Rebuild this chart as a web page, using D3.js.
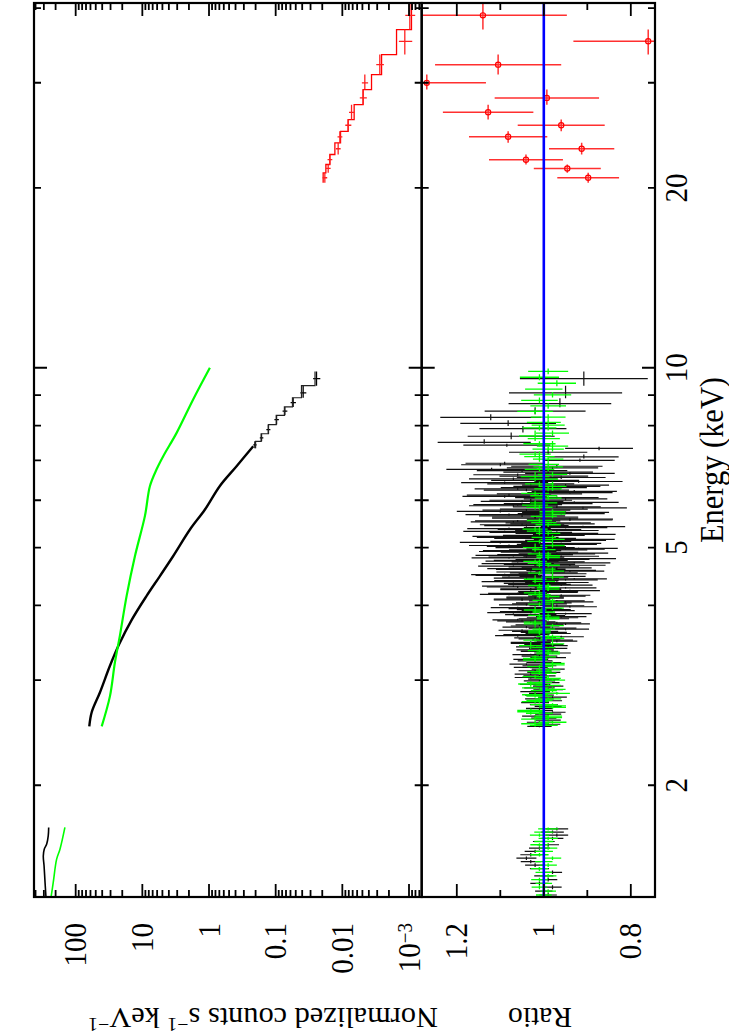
<!DOCTYPE html>
<html>
<head>
<meta charset="utf-8">
<script src="https://cdn.jsdelivr.net/npm/d3@7"></script>
<style>
  body { margin: 0; background: #fff; }
</style>
</head>
<body>
<svg id="chart" width="729" height="1034"></svg>
<script>
// ---- upper panel: normalized counts (energy keV, counts s-1 keV-1)
var blackLowE = [1.30, 1.375, 1.466, 1.523, 1.563, 1.594, 1.645, 1.70]
var blackLowC = [279, 288, 298, 306, 296, 272, 258, 254]
var greenLowE = [1.30, 1.375, 1.504, 1.563, 1.70]
var greenLowC = [234, 217, 193, 172, 145]

var blackE = [2.51, 2.65, 2.86, 3.17, 3.44, 3.79, 4.15, 4.48, 4.84, 5.36, 5.79, 6.34, 6.84, 7.39]
var blackC = [62.5, 57.5, 43.3, 30.6, 22.4, 14.3, 8.63, 5.45, 3.44, 1.93, 1.15, 0.687, 0.386, 0.217]
// last wide black bins, drawn as crosses with the model step
var blackHiE = [7.43, 7.63, 7.88, 8.19, 8.46, 8.74, 9.08, 9.59]
var blackHiC = [0.205, 0.163, 0.129, 0.097, 0.0728, 0.0547, 0.0387, 0.0244]
var blackHiErr = [0.012, 0.010, 0.009, 0.0075, 0.006, 0.005, 0.004, 0.003]
var blackHiModel = [0.200, 0.165, 0.128, 0.098, 0.074, 0.056, 0.041, 0.0257]

var greenE = [2.51, 2.82, 3.21, 3.56, 4.15, 4.84, 5.65, 6.34, 6.76, 7.11, 7.78, 8.85, 10.0]
var greenC = [40.7, 30.6, 25.8, 21.7, 17.2, 12.9, 9.14, 7.69, 6.11, 4.86, 3.06, 1.73, 0.97]

var redEdges = [20.4, 21.2, 21.89, 22.75, 23.8, 24.88, 26.03, 27.57, 29.22, 30.96, 33.45, 36.83, 41.06]
var redE = [20.8, 21.56, 22.3, 23.26, 24.36, 25.47, 26.77, 28.30, 29.99, 32.17, 35.20, 38.9]
var redC = [0.0183, 0.0163, 0.0154, 0.01155, 0.0109, 0.00818, 0.00728, 0.00488, 0.0046, 0.00274, 0.001156, 0.000972]
var redModel = [0.0194, 0.01766, 0.01538, 0.01294, 0.01064, 0.00818, 0.00665, 0.00488, 0.00365, 0.00258, 0.001538, 0.000918]
var redRatio = [0.898, 0.946, 1.041, 0.913, 1.082, 0.960, 1.128, 0.993, 1.269, 1.105, 0.760, 1.140]
var redRatioErr = [0.071, 0.077, 0.085, 0.075, 0.09, 0.10, 0.104, 0.12, 0.136, 0.145, 0.172, 0.193]

// ---- lower panel: ratio
var bLowE = [1.31, 1.33, 1.35, 1.37, 1.39, 1.41, 1.43, 1.45, 1.47, 1.49, 1.51, 1.53, 1.55, 1.57, 1.59, 1.61, 1.63, 1.65, 1.67, 1.69]
var bLowR = [0.99, 1.00, 0.98, 1.01, 0.99, 1.00, 0.98, 1.01, 1.02, 1.03, 1.04, 1.03, 1.02, 1.01, 0.99, 1.00, 0.98, 0.97, 0.98, 0.97]
var bLowErr = [0.020, 0.020, 0.021, 0.021, 0.021, 0.022, 0.022, 0.022, 0.023, 0.023, 0.023, 0.024, 0.024, 0.024, 0.025, 0.025, 0.025, 0.026, 0.026, 0.026]
var gLowE = [1.31, 1.33, 1.35, 1.37, 1.39, 1.41, 1.43, 1.45, 1.47, 1.49, 1.51, 1.53, 1.55, 1.57, 1.59, 1.61, 1.63, 1.65, 1.67, 1.69]
var gLowR = [1.00, 0.99, 1.01, 1.00, 1.01, 0.99, 1.00, 1.01, 0.99, 1.00, 0.98, 1.01, 1.00, 0.99, 1.01, 1.00, 0.99, 1.01, 1.00, 0.99]
var gLowErr = [0.018, 0.018, 0.018, 0.019, 0.019, 0.019, 0.019, 0.020, 0.020, 0.020, 0.020, 0.021, 0.021, 0.021, 0.021, 0.022, 0.022, 0.022, 0.022, 0.023]

var bE = [2.51, 2.53, 2.55, 2.57, 2.59, 2.61, 2.63, 2.65, 2.67, 2.69,
  2.71, 2.73, 2.75, 2.77, 2.79, 2.81, 2.83, 2.85, 2.87, 2.89,
  2.91, 2.93, 2.95, 2.97, 2.99, 3.01, 3.03, 3.05, 3.07, 3.09,
  3.11, 3.13, 3.15, 3.17, 3.19, 3.21, 3.23, 3.25, 3.27, 3.29,
  3.31, 3.33, 3.35, 3.37, 3.39, 3.41, 3.44, 3.47, 3.50, 3.53,
  3.56, 3.59, 3.62, 3.65, 3.68, 3.71, 3.74, 3.77, 3.80, 3.83,
  3.86, 3.89, 3.92, 3.95, 3.98, 4.01, 4.04, 4.07, 4.10, 4.13,
  4.16, 4.19, 4.22, 4.25, 4.28, 4.31, 4.34, 4.37, 4.40, 4.43,
  4.46, 4.49, 4.52, 4.55, 4.58, 4.61, 4.64, 4.67, 4.70, 4.73,
  4.76, 4.79, 4.82, 4.85, 4.88, 4.91, 4.94, 4.97, 5.00, 5.04,
  5.08, 5.12, 5.16, 5.20, 5.24, 5.28, 5.32, 5.36, 5.40, 5.44,
  5.48, 5.52, 5.56, 5.60, 5.65, 5.70, 5.75, 5.80, 5.85, 5.90,
  5.95, 6.00, 6.06, 6.12, 6.18, 6.24, 6.30, 6.36, 6.42, 6.48,
  6.55, 6.62, 6.69, 6.76, 6.84, 6.92, 7.00, 7.09, 7.22, 7.33,
  7.42, 7.50, 7.68, 7.91, 8.07, 8.26, 8.46, 8.71, 9.08, 9.59]
var bR = [1.01, 0.99, 1.01, 0.99, 1.00, 1.02, 0.99, 0.98, 1.01, 1.01,
  0.99, 1.00, 1.02, 0.99, 1.01, 0.98, 1.01, 1.00, 1.02, 0.99,
  1.01, 0.99, 1.02, 1.00, 1.01, 1.00, 1.03, 1.01, 1.03, 1.00,
  1.02, 0.99, 1.03, 1.01, 1.04, 1.00, 1.02, 1.03, 0.99, 1.01,
  1.03, 0.98, 1.01, 1.02, 0.99, 1.02, 1.00, 1.03, 0.98, 1.02,
  1.06, 0.99, 1.02, 0.95, 1.04, 1.01, 0.97, 1.05, 1.00, 0.96,
  1.03, 1.07, 0.99, 1.02, 0.94, 1.04, 1.00, 0.97, 1.05, 1.02,
  0.96, 1.06, 0.99, 1.03, 0.95, 1.07, 1.01, 0.97, 1.04, 0.93,
  1.02, 1.08, 0.98, 1.03, 0.96, 1.05, 1.00, 0.94, 1.06, 0.99,
  1.03, 0.92, 1.04, 1.07, 0.97, 1.01, 1.05, 0.95, 1.02, 1.08,
  0.96, 1.03, 0.93, 1.06, 1.00, 0.97, 1.09, 1.01, 0.95, 1.04,
  0.98, 1.07, 0.94, 1.02, 1.05, 0.96, 1.10, 1.00, 0.97, 1.06,
  0.93, 1.03, 0.97, 1.08, 0.94, 1.04, 1.00, 0.95, 1.09, 1.02,
  0.96, 1.06, 0.99, 1.12, 0.97, 1.09, 0.917, 0.908, 0.99, 0.873,
  1.085, 1.137, 1.075, 1.048, 1.082, 1.122, 1.02, 0.963, 0.95, 0.908]
var bErr = [0.028, 0.028, 0.029, 0.029, 0.029, 0.030, 0.030, 0.030, 0.031, 0.031,
  0.031, 0.032, 0.032, 0.032, 0.033, 0.033, 0.033, 0.034, 0.034, 0.034,
  0.035, 0.035, 0.035, 0.036, 0.036, 0.036, 0.037, 0.037, 0.037, 0.038,
  0.038, 0.038, 0.039, 0.039, 0.039, 0.040, 0.040, 0.040, 0.041, 0.041,
  0.042, 0.042, 0.043, 0.043, 0.044, 0.044, 0.045, 0.046, 0.047, 0.048,
  0.052, 0.052, 0.053, 0.054, 0.055, 0.055, 0.056, 0.057, 0.058, 0.058,
  0.059, 0.060, 0.061, 0.061, 0.062, 0.063, 0.064, 0.064, 0.065, 0.066,
  0.067, 0.068, 0.069, 0.070, 0.071, 0.072, 0.072, 0.073, 0.074, 0.075,
  0.076, 0.077, 0.078, 0.079, 0.080, 0.080, 0.081, 0.082, 0.083, 0.084,
  0.085, 0.086, 0.087, 0.087, 0.088, 0.089, 0.090, 0.090, 0.091, 0.092,
  0.092, 0.093, 0.093, 0.094, 0.094, 0.095, 0.095, 0.096, 0.096, 0.097,
  0.097, 0.098, 0.098, 0.099, 0.099, 0.100, 0.100, 0.101, 0.101, 0.102,
  0.102, 0.095, 0.096, 0.097, 0.098, 0.098, 0.099, 0.100, 0.100, 0.101,
  0.102, 0.102, 0.103, 0.104, 0.105, 0.090, 0.080, 0.080, 0.090, 0.078,
  0.100, 0.107, 0.100, 0.100, 0.110, 0.116, 0.116, 0.118, 0.130, 0.147]
// second, interleaved black channel group (3.4 - 6.9 keV)
var bE2 = [3.425, 3.455, 3.485, 3.515, 3.545, 3.575, 3.605, 3.635, 3.665, 3.695,
  3.725, 3.755, 3.785, 3.815, 3.845, 3.875, 3.905, 3.935, 3.965, 3.995,
  4.025, 4.055, 4.085, 4.115, 4.145, 4.175, 4.205, 4.235, 4.265, 4.295,
  4.325, 4.355, 4.385, 4.415, 4.445, 4.475, 4.505, 4.535, 4.565, 4.595,
  4.625, 4.655, 4.685, 4.715, 4.745, 4.775, 4.805, 4.835, 4.865, 4.895,
  4.925, 4.955, 4.985, 5.02, 5.06, 5.10, 5.14, 5.18, 5.22, 5.26,
  5.30, 5.34, 5.38, 5.42, 5.46, 5.50, 5.54, 5.58, 5.625, 5.675,
  5.725, 5.775, 5.825, 5.875, 5.925, 5.975, 6.03, 6.09, 6.15, 6.21,
  6.27, 6.33, 6.39, 6.45, 6.515, 6.585, 6.655, 6.725, 6.80, 6.88]
var bR2 = [0.99, 1.03, 0.97, 1.01, 0.96, 1.04, 1.00, 1.05, 0.98, 1.02,
  0.95, 1.03, 1.06, 0.98, 1.01, 0.95, 1.04, 1.00, 1.06, 0.97,
  1.01, 0.95, 1.05, 1.02, 0.97, 1.08, 0.99, 0.94, 1.03, 1.06,
  0.96, 1.02, 1.07, 0.95, 1.04, 0.98, 1.09, 1.00, 0.94, 1.03,
  0.97, 1.07, 1.01, 0.93, 1.05, 0.98, 1.08, 0.96, 1.02, 0.94,
  1.06, 0.99, 0.92, 1.04, 0.97, 1.10, 0.95, 1.02, 1.07, 0.93,
  1.03, 0.97, 1.08, 0.91, 1.05, 0.99, 1.06, 0.94, 1.02, 1.08,
  0.95, 1.04, 0.91, 1.07, 0.99, 1.05, 0.95, 1.09, 1.01, 0.93,
  1.06, 0.97, 1.03, 0.92, 1.07, 1.00, 0.94, 1.05, 0.98, 1.10]
var bErr2 = [0.045, 0.046, 0.047, 0.048, 0.052, 0.053, 0.053, 0.054, 0.055, 0.056,
  0.056, 0.057, 0.058, 0.059, 0.059, 0.060, 0.061, 0.062, 0.062, 0.063,
  0.063, 0.064, 0.065, 0.066, 0.066, 0.067, 0.068, 0.069, 0.070, 0.071,
  0.072, 0.072, 0.073, 0.074, 0.075, 0.076, 0.077, 0.078, 0.079, 0.080,
  0.080, 0.081, 0.082, 0.083, 0.084, 0.085, 0.086, 0.087, 0.087, 0.088,
  0.089, 0.090, 0.090, 0.091, 0.092, 0.093, 0.093, 0.094, 0.094, 0.095,
  0.095, 0.096, 0.096, 0.097, 0.097, 0.098, 0.098, 0.099, 0.099, 0.100,
  0.100, 0.101, 0.101, 0.102, 0.102, 0.095, 0.096, 0.097, 0.098, 0.098,
  0.099, 0.100, 0.100, 0.101, 0.102, 0.102, 0.103, 0.104, 0.105, 0.090]

var gE = [2.52, 2.55, 2.58, 2.61, 2.64, 2.67, 2.70, 2.73, 2.76, 2.79,
  2.82, 2.85, 2.88, 2.91, 2.94, 2.97, 3.00, 3.04, 3.08, 3.12,
  3.16, 3.20, 3.24, 3.28, 3.32, 3.36, 3.40, 3.45, 3.50, 3.55,
  3.60, 3.65, 3.70, 3.75, 3.80, 3.85, 3.90, 3.96, 4.02, 4.08,
  4.14, 4.20, 4.26, 4.32, 4.39, 4.46, 4.53, 4.60, 4.67, 4.74,
  4.81, 4.88, 4.96, 5.04, 5.12, 5.20, 5.28, 5.37, 5.46, 5.55,
  5.64, 5.74, 5.84, 5.94, 6.05, 6.16, 6.27, 6.39, 6.51, 6.63,
  6.76, 6.89, 7.03, 7.17, 7.31, 7.46, 7.61, 7.77, 7.93, 8.10,
  8.27, 8.45, 8.63, 8.82, 9.01, 9.21, 9.42, 9.64, 9.86]
var gR = [1.00, 0.98, 1.02, 0.99, 1.01, 1.03, 0.98, 1.00, 1.02, 0.99,
  1.01, 0.97, 1.00, 1.02, 0.99, 1.01, 0.98, 1.02, 1.00, 0.99,
  1.01, 0.98, 1.02, 1.00, 0.99, 1.01, 1.00, 0.98, 1.02, 0.99,
  1.01, 1.00, 0.98, 1.02, 0.99, 1.01, 1.00, 0.98, 1.01, 1.00,
  0.99, 1.02, 0.99, 1.01, 1.00, 0.98, 1.01, 1.00, 0.99, 1.02,
  0.99, 1.01, 1.00, 0.98, 1.01, 1.00, 0.99, 1.02, 0.99, 1.01,
  1.00, 0.98, 1.01, 1.00, 0.99, 1.02, 0.99, 1.01, 1.00, 0.98,
  1.01, 1.00, 0.99, 1.02, 0.99, 1.01, 1.00, 0.98, 1.01, 1.00,
  0.99, 1.02, 0.99, 1.01, 0.98, 1.00, 0.97, 1.01, 0.99]
var gErr = [0.032, 0.032, 0.032, 0.032, 0.031, 0.031, 0.031, 0.031, 0.031, 0.030,
  0.030, 0.030, 0.030, 0.030, 0.029, 0.029, 0.029, 0.029, 0.029, 0.028,
  0.028, 0.028, 0.028, 0.028, 0.027, 0.027, 0.027, 0.027, 0.027, 0.027,
  0.026, 0.026, 0.026, 0.026, 0.026, 0.026, 0.026, 0.026, 0.026, 0.026,
  0.026, 0.026, 0.026, 0.026, 0.026, 0.026, 0.026, 0.027, 0.027, 0.027,
  0.027, 0.027, 0.027, 0.028, 0.028, 0.028, 0.028, 0.029, 0.029, 0.029,
  0.030, 0.030, 0.030, 0.031, 0.031, 0.032, 0.032, 0.033, 0.033, 0.034,
  0.034, 0.035, 0.035, 0.036, 0.036, 0.037, 0.037, 0.038, 0.039, 0.039,
  0.040, 0.041, 0.041, 0.042, 0.043, 0.043, 0.044, 0.045, 0.046]
var gE2 = [2.535, 2.595, 2.655, 2.715, 2.775, 2.835, 2.895, 2.955, 3.02, 3.10,
  3.18, 3.26, 3.34, 3.425, 3.525, 3.625, 3.725, 3.825, 3.93, 4.05,
  4.17, 4.29, 4.425, 4.565, 4.705, 4.845, 5.00, 5.16, 5.325, 5.505,
  5.69, 5.89, 6.105, 6.33, 6.57, 6.825, 7.10, 7.39, 7.69, 8.015]
var gR2 = [1.02, 0.99, 1.03, 0.98, 1.01, 1.02, 0.98, 1.03, 0.99, 1.01,
  0.98, 1.02, 0.99, 1.03, 0.98, 1.01, 1.02, 0.99, 1.02, 0.98,
  1.01, 0.99, 1.02, 0.98, 1.01, 0.99, 1.02, 0.98, 1.01, 1.00,
  0.98, 1.02, 1.00, 0.98, 1.02, 0.99, 1.01, 0.98, 1.02, 0.99]
var gErr2 = [0.032, 0.032, 0.031, 0.031, 0.030, 0.030, 0.030, 0.029, 0.029, 0.028,
  0.028, 0.028, 0.027, 0.027, 0.027, 0.026, 0.026, 0.026, 0.026, 0.026,
  0.026, 0.026, 0.026, 0.027, 0.027, 0.027, 0.028, 0.028, 0.029, 0.029,
  0.030, 0.030, 0.031, 0.032, 0.033, 0.034, 0.035, 0.036, 0.037, 0.038]

// ---- axes
var energyMajor = [10]
var energyMinor = [2, 3, 4, 5, 6, 7, 8, 9, 20, 30, 40]
var energyLabels = [2, 5, 10, 20]
var countLabels = [100, 10, 1, 0.1, 0.01, 0.001]
var ratioMajor = [0.8, 1.0, 1.2]
var ratioMinor = [0.9, 1.1]

// The plot is laid out in its own upright frame (1034 wide, 729 high)
// and then turned a quarter turn counter-clockwise onto the page.
var W = 1034
var SY = 1.1
var FONT = '"Liberation Serif", "Nimbus Roman", "Nimbus Roman No9 L", "TeX Gyre Termes", FreeSerif, "Noto Serif", "DejaVu Serif", "Times New Roman", Times, serif'

var svg = d3.select('#chart')
var plot = svg.append('g').attr('transform', 'translate(0,' + W + ') rotate(-90)')

var x0 = 137, x1 = 1031, yTop = 34, yMid = 421.7, yBot = 655

var x = d3.scaleLog().domain([1.3, 40.8]).range([x0, x1])
var yc = d3.scaleLog().domain([421.8, 6.45e-4]).range([yTop, yMid])
var yr = d3.scaleLinear().domain([1.2807, 0.7444]).range([yMid, yBot])

var defs = svg.append('defs')
defs.append('clipPath').attr('id', 'clipTop').append('rect')
  .attr('x', x0).attr('y', yTop).attr('width', x1 - x0).attr('height', yMid - yTop)
defs.append('clipPath').attr('id', 'clipBot').append('rect')
  .attr('x', x0).attr('y', yMid).attr('width', x1 - x0).attr('height', yBot - yMid)

var topG = plot.append('g').attr('clip-path', 'url(#clipTop)')
var botG = plot.append('g').attr('clip-path', 'url(#clipBot)')

function zip(a, b) { return a.map(function(v, i) { return [v, b[i]] }) }

function binEdges(E) {
  return E.map(function(e, i) {
    var lo = i > 0 ? Math.sqrt(E[i - 1] * e) : e * e / Math.sqrt(e * E[i + 1])
    var hi = i < E.length - 1 ? Math.sqrt(e * E[i + 1]) : e * e / Math.sqrt(E[i - 1] * e)
    return [lo, hi]
  })
}

var curve = d3.line()
  .x(function(d) { return x(d[0]) })
  .y(function(d) { return yc(d[1]) })
  .curve(d3.curveCatmullRom.alpha(0.5))

// upper panel lines
topG.append('path').attr('d', curve(zip(blackLowE, blackLowC)))
  .attr('fill', 'none').attr('stroke', '#000').attr('stroke-width', 1.6)
topG.append('path').attr('d', curve(zip(greenLowE, greenLowC)))
  .attr('fill', 'none').attr('stroke', '#00ff00').attr('stroke-width', 1.6)
topG.append('path').attr('d', curve(zip(blackE, blackC)))
  .attr('fill', 'none').attr('stroke', '#000').attr('stroke-width', 2.4)

// black wide bins: crosses and model step
var hiEdges = binEdges(blackHiE)
var hiPath = ''
blackHiE.forEach(function(e, i) {
  hiPath += 'M' + x(hiEdges[i][0]) + ',' + yc(blackHiC[i]) + 'H' + x(hiEdges[i][1])
  hiPath += 'M' + x(e) + ',' + yc(blackHiC[i] - blackHiErr[i]) + 'V' + yc(blackHiC[i] + blackHiErr[i])
})
topG.append('path').attr('d', hiPath).attr('fill', 'none').attr('stroke', '#000').attr('stroke-width', 1.3)
var hiStep = ''
blackHiModel.forEach(function(m, i) {
  hiStep += (i === 0 ? 'M' + x(hiEdges[i][0]) + ',' + yc(m) : 'V' + yc(m)) + 'H' + x(hiEdges[i][1])
})
topG.append('path').attr('d', hiStep).attr('fill', 'none').attr('stroke', '#222').attr('stroke-width', 1.2)

topG.append('path').attr('d', curve(zip(greenE, greenC)))
  .attr('fill', 'none').attr('stroke', '#00ff00').attr('stroke-width', 2.2)

// red bins: crosses and model step
var redPath = '', redStep = ''
redE.forEach(function(e, i) {
  var c = redC[i], ce = c * redRatioErr[i] / redRatio[i]
  redPath += 'M' + x(redEdges[i]) + ',' + yc(c) + 'H' + x(redEdges[i + 1])
  redPath += 'M' + x(e) + ',' + yc(c - ce) + 'V' + yc(c + ce)
  redStep += (i === 0 ? 'M' + x(redEdges[0]) + ',' + yc(redModel[0]) : 'V' + yc(redModel[i])) + 'H' + x(redEdges[i + 1])
})
topG.append('path').attr('d', redStep).attr('fill', 'none').attr('stroke', '#ff0000').attr('stroke-width', 1.3)
topG.append('path').attr('d', redPath).attr('fill', 'none').attr('stroke', '#ff2020').attr('stroke-width', 1.3)

// ratio panel
function ratioBars(E, R, Err, color, width) {
  var edges = binEdges(E)
  var p = ''
  E.forEach(function(e, i) {
    p += 'M' + x(e) + ',' + yr(R[i] - Err[i]) + 'V' + yr(R[i] + Err[i])
    p += 'M' + x(edges[i][0]) + ',' + yr(R[i]) + 'H' + x(edges[i][1])
  })
  botG.append('path').attr('d', p).attr('fill', 'none').attr('stroke', color).attr('stroke-width', width)
}
ratioBars(bLowE, bLowR, bLowErr, '#111', 1.2)
ratioBars(bE, bR, bErr, '#111', 1.2)
ratioBars(bE2, bR2, bErr2, '#111', 1.2)
ratioBars(gLowE, gLowR, gLowErr, '#00ff00', 1.3)
ratioBars(gE, gR, gErr, '#00ff00', 1.3)
ratioBars(gE2, gR2, gErr2, '#00ff00', 1.3)

var redRatioPath = ''
redE.forEach(function(e, i) {
  redRatioPath += 'M' + x(e) + ',' + yr(redRatio[i] - redRatioErr[i]) + 'V' + yr(redRatio[i] + redRatioErr[i])
  redRatioPath += 'M' + x(redEdges[i]) + ',' + yr(redRatio[i]) + 'H' + x(redEdges[i + 1])
})
botG.append('path').attr('d', redRatioPath).attr('fill', 'none').attr('stroke', '#ff3030').attr('stroke-width', 1.5)
botG.selectAll('circle').data(redE).enter().append('circle')
  .attr('cx', function(d) { return x(d) })
  .attr('cy', function(d, i) { return yr(redRatio[i]) })
  .attr('r', 2.6).attr('fill', 'none').attr('stroke', '#ff0000').attr('stroke-width', 1.2)

botG.append('line')
  .attr('x1', x0).attr('x2', x1).attr('y1', yr(1)).attr('y2', yr(1))
  .attr('stroke', '#0000ff').attr('stroke-width', 2.6)

// frames
plot.append('rect').attr('x', x0).attr('y', yTop).attr('width', x1 - x0).attr('height', yMid - yTop)
  .attr('fill', 'none').attr('stroke', '#000').attr('stroke-width', 2.2)
plot.append('rect').attr('x', x0).attr('y', yMid).attr('width', x1 - x0).attr('height', yBot - yMid)
  .attr('fill', 'none').attr('stroke', '#000').attr('stroke-width', 2.2)

// ticks
var tk = ''
var MAJ = 13, MIN = 7
;[[yTop, yMid], [yMid, yBot]].forEach(function(p) {
  energyMajor.concat(energyMinor).forEach(function(v) {
    var len = energyMajor.indexOf(v) >= 0 ? MAJ : MIN
    tk += 'M' + x(v) + ',' + p[0] + 'v' + len + 'M' + x(v) + ',' + p[1] + 'v' + (-len)
  })
})
yc.ticks().forEach(function(v) {
  var lg = Math.log10(v)
  var len = Math.abs(lg - Math.round(lg)) < 1e-6 ? MAJ : MIN
  tk += 'M' + x0 + ',' + yc(v) + 'h' + len + 'M' + x1 + ',' + yc(v) + 'h' + (-len)
})
ratioMajor.concat(ratioMinor).forEach(function(v) {
  var len = ratioMajor.indexOf(v) >= 0 ? MAJ : MIN
  tk += 'M' + x0 + ',' + yr(v) + 'h' + len + 'M' + x1 + ',' + yr(v) + 'h' + (-len)
})
plot.append('path').attr('d', tk).attr('fill', 'none').attr('stroke', '#000').attr('stroke-width', 1.8)

// text
function label(px, py, anchor, size, rot) {
  return plot.append('text')
    .attr('transform', 'translate(' + px + ',' + py + ') scale(1,' + SY + ')' + (rot ? ' rotate(' + rot + ')' : ''))
    .attr('text-anchor', anchor)
    .attr('font-family', FONT)
    .attr('fill', '#000')
    .style('font-size', size + 'px')
}

energyLabels.forEach(function(v) {
  label(x(v), 687, 'middle', 29).text(v)
})
countLabels.forEach(function(v) {
  var t = label(111, yc(v) + 10.5, 'end', 29)
  if (v === 0.001) {
    t.append('tspan').text('10')
    t.append('tspan').attr('dy', -7).style('font-size', '19px').text('\u22123')
  } else {
    t.text(v)
  }
})
ratioMajor.forEach(function(v) {
  label(111, yr(v) + 10.5, 'end', 29).text(v === 1 ? '1' : v)
})

label(574, 723, 'middle', 30).attr('textLength', 166).attr('lengthAdjust', 'spacingAndGlyphs')
  .text('Energy (keV)')

var yl = label(26, 263, 'middle', 29, -90)
  .attr('textLength', 318).attr('lengthAdjust', 'spacingAndGlyphs')
yl.append('tspan').text('Normalized counts s')
yl.append('tspan').attr('dy', -10).style('font-size', '19px').text('\u22121')
yl.append('tspan').attr('dy', 10).text(' keV')
yl.append('tspan').attr('dy', -10).style('font-size', '19px').text('\u22121')

label(26, 540, 'middle', 29, -90).attr('textLength', 58).attr('lengthAdjust', 'spacingAndGlyphs')
  .text('Ratio')
</script>
</body>
</html>
